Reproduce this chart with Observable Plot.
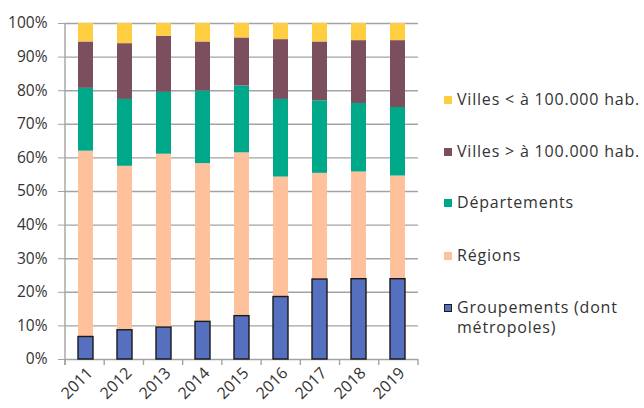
<!DOCTYPE html>
<html>
<head>
<meta charset="utf-8">
<script src="https://cdn.jsdelivr.net/npm/d3@7"></script>
<script src="https://cdn.jsdelivr.net/npm/@observablehq/plot@0.6"></script>
<style>
  html, body { margin: 0; padding: 0; background: #fff; }
  #wrap { position: relative; width: 644px; height: 408px; font-family: "Open Sans", Lato, sans-serif; color: #333; overflow: hidden; }
  #chart { position: absolute; left: 0; top: 0; }
  .lg { position: absolute; left: 444px; font-size: 16px; letter-spacing: 0.8px; line-height: 20px; display: flex; align-items: flex-start; white-space: nowrap; }
  .sw { width: 8px; height: 8px; margin-top: 7px; margin-right: 5px; box-sizing: border-box; flex: none; }
</style>
</head>
<body>
<div id="wrap"><div id="chart"></div><div id="legend"></div></div>
<script>
const years = ["2011","2012","2013","2014","2015","2016","2017","2018","2019"];
const categories = ["Groupements (dont métropoles)", "Régions", "Départements", "Villes > à 100.000 hab.", "Villes < à 100.000 hab."];
const colors = ["#5470be", "#ffc19c", "#00a88a", "#7b4f5e", "#ffcd40"];
const groupements = [0.067, 0.087, 0.095, 0.112, 0.129, 0.186, 0.238, 0.239, 0.239];
const regions     = [0.553, 0.488, 0.516, 0.471, 0.486, 0.357, 0.316, 0.319, 0.307];
const departements= [0.187, 0.199, 0.184, 0.216, 0.199, 0.231, 0.216, 0.204, 0.204];
const villesPlus  = [0.138, 0.166, 0.167, 0.146, 0.143, 0.178, 0.175, 0.187, 0.199];
const villesMoins = [0.055, 0.060, 0.038, 0.055, 0.043, 0.048, 0.055, 0.051, 0.051];
const yTicks = [0, 0.1, 0.2, 0.3, 0.4, 0.5, 0.6, 0.7, 0.8, 0.9, 1];

const series = [groupements, regions, departements, villesPlus, villesMoins];
const data = [];
years.forEach((yr, i) => series.forEach((s, k) => data.push({year: yr, cat: categories[k], value: s[i]})));

const axisFrame = (index, scales, values, dims) => {
  const g = d3.create("svg:g").attr("stroke", "#a3a3a3").attr("stroke-width", 1.4);
  const left = dims.marginLeft, right = dims.width - dims.marginRight;
  const y0 = scales.y(0), y1 = scales.y(1);
  g.append("line").attr("x1", left).attr("x2", left).attr("y1", y1).attr("y2", y0 + 6);
  const n = years.length;
  for (let i = 0; i <= n; i++) {
    const x = left + i * (right - left) / n;
    g.append("line").attr("x1", x).attr("x2", x).attr("y1", y0).attr("y2", y0 + 6);
  }
  return g.node();
};

const chart = Plot.plot({
  width: 430, height: 408,
  marginLeft: 65, marginRight: 12, marginTop: 23, marginBottom: 49,
  x: {domain: years, paddingInner: 0.617, paddingOuter: 0.3085, label: null},
  y: {domain: [0, 1], label: null},
  color: {domain: categories, range: colors},
  style: {fontFamily: "'Open Sans', Lato, sans-serif", fontSize: "15px", color: "#333", background: "#fff"},
  marks: [
    Plot.gridY(yTicks, {stroke: "#a3a3a3", strokeOpacity: 1, strokeWidth: 1.4}),
    Plot.barY(data, {x: "year", y: "value", fill: "cat"}),
    Plot.barY(data.filter(d => d.cat === categories[0]), {x: "year", y: "value", fill: "none", stroke: "#1a1a1a", strokeWidth: 1.4}),
    Plot.axisY(yTicks, {tickFormat: d3.format(".0%"), tickSize: 7, tickPadding: 11, stroke: "#a3a3a3", fill: "#333", fontSize: 15.5, label: null}),
    Plot.axisX({tickSize: 0, tickRotate: -45, tickPadding: 11, dx: 4, fill: "#333", fontSize: 16, label: null}),
    axisFrame
  ]
});
document.getElementById("chart").appendChild(chart);

const legendItems = [
  {cat: categories[4], top: 89},
  {cat: categories[3], top: 141},
  {cat: categories[2], top: 192},
  {cat: categories[1], top: 245},
  {cat: categories[0], top: 297}
];
const lg = document.getElementById("legend");
legendItems.forEach(it => {
  const k = categories.indexOf(it.cat);
  const div = document.createElement("div");
  div.className = "lg";
  div.style.top = it.top + "px";
  const sw = document.createElement("span");
  sw.className = "sw";
  sw.style.background = colors[k];
  if (k === 0) sw.style.border = "1px solid #1a1a1a";
  const t = document.createElement("span");
  if (k === 0) {
    t.innerHTML = "Groupements (dont<br>métropoles)";
  } else {
    t.textContent = it.cat;
  }
  div.appendChild(sw);
  div.appendChild(t);
  lg.appendChild(div);
});
</script>
</body>
</html>
